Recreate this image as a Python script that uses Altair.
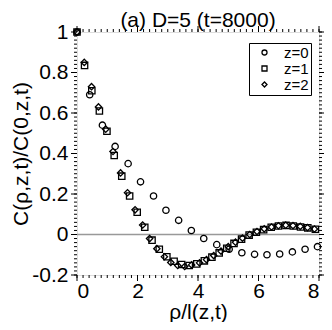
import altair as alt
import pandas as pd

# ---- data ----
labels = ["z=0", "z=1", "z=2"]

z0_x = [0, 0.42, 0.84, 1.26, 1.69, 2.10, 2.53, 2.94, 3.36, 3.78, 4.19, 4.62,
        5.03, 5.45, 5.87, 6.28, 6.70, 7.12, 7.54, 7.95]
z0_y = [1.0, 0.69, 0.54, 0.435, 0.35, 0.26, 0.19, 0.12, 0.07, 0.02, -0.02, -0.05,
        -0.073, -0.09, -0.098, -0.10, -0.096, -0.086, -0.073, -0.06]

z1_x = [0, 0.25, 0.49, 0.74, 0.99, 1.23, 1.48, 1.74, 1.99, 2.24, 2.48, 2.72,
        2.97, 3.21, 3.46, 3.71, 3.96, 4.21, 4.46, 4.70, 4.95, 5.19, 5.44, 5.69,
        5.93, 6.17, 6.42, 6.66, 6.91, 7.15, 7.39, 7.63, 7.88]
z1_y = [1.0, 0.835, 0.71, 0.61, 0.51, 0.39, 0.288, 0.19, 0.11, 0.036, -0.028, -0.073,
        -0.11, -0.132, -0.148, -0.153, -0.145, -0.13, -0.112, -0.091, -0.068, -0.044,
        -0.023, -0.003, 0.011, 0.024, 0.036, 0.042, 0.045, 0.042, 0.037, 0.033, 0.026]

z2_x = [0, 0.24, 0.48, 0.71, 0.95, 1.19, 1.44, 1.67, 1.92, 2.17, 2.40, 2.64,
        2.89, 3.10, 3.33, 3.56, 3.79, 4.05, 4.28, 4.52, 4.76, 5.00, 5.24, 5.47,
        5.71, 5.95, 6.19, 6.43, 6.66, 6.90, 7.14, 7.38, 7.62, 7.85]
z2_y = [1.0, 0.85, 0.73, 0.63, 0.52, 0.41, 0.304, 0.206, 0.122, 0.047, -0.02, -0.07,
        -0.11, -0.138, -0.153, -0.158, -0.15, -0.14, -0.124, -0.104, -0.082, -0.06,
        -0.038, -0.018, 0.0, 0.015, 0.028, 0.037, 0.043, 0.046, 0.044, 0.04, 0.034, 0.027]

x_major = [0, 2, 4, 6, 8]
x_minor = [round(i * 0.2, 2) for i in range(41)]
y_major = [-0.2, 0, 0.2, 0.4, 0.6, 0.8, 1.0]
y_minor = [round(-0.2 + i * 0.02, 2) for i in range(61)]
zero_line = [0]

title_text = "(a) D=5 (t=8000)"
x_title = "ρ/l(z,t)"
y_title = "C(ρ,z,t)/C(0,z,t)"

# ---- build tables ----
rows = []
for lab, xs_, ys_ in zip(labels, [z0_x, z1_x, z2_x], [z0_y, z1_y, z2_y]):
    rows += [{"r": a, "c": b, "z": lab} for a, b in zip(xs_, ys_)]
df = pd.DataFrame(rows)

W, H = 242, 243
FONT = "Liberation Sans"
FS = 21
xsc = alt.Scale(domain=[0, 8], nice=False, zero=False)
ysc = alt.Scale(domain=[-0.2, 1], nice=False, zero=False)

y_label_expr = ("datum.value < 0 ? '-' + format(-datum.value, '.1~f') : "
                "format(datum.value, '.1~f')")

x_axis = alt.Axis(
    values=x_major, ticks=False, domain=False, grid=False,
    labelFont=FONT, labelFontSize=FS, labelColor="black", labelPadding=5,
    title=x_title, titleFont=FONT, titleFontSize=FS, titleFontWeight="normal",
    titleColor="black", titleBaseline="alphabetic", titleY=43)
y_axis = alt.Axis(
    values=y_major, ticks=False, domain=False, grid=False,
    labelFont=FONT, labelFontSize=FS, labelColor="black", labelPadding=9,
    labelExpr=y_label_expr,
    title=y_title, titleFont=FONT, titleFontSize=FS, titleFontWeight="normal",
    titleColor="black", titleBaseline="alphabetic", titleX=-50, titleY=H / 2,
    titleAngle=270)

X = lambda: alt.X("r:Q", scale=xsc, axis=x_axis)
Y = lambda: alt.Y("c:Q", scale=ysc, axis=y_axis)

points = alt.Chart(df).mark_point(
    filled=False, color="black", strokeWidth=1.3, size=40, opacity=1
).encode(
    x=X(), y=Y(),
    shape=alt.Shape("z:N", scale=alt.Scale(domain=labels, range=["circle", "square", "diamond"]),
                    legend=alt.Legend(
                        title=None, orient="none", legendX=172, legendY=11,
                        strokeColor="black", fillColor="white", padding=2,
                        labelFont=FONT, labelFontSize=15, labelColor="black",
                        symbolSize=25, symbolStrokeWidth=1.3, symbolOffset=6,
                        labelOffset=12, rowPadding=-2)),
)

zero = alt.Chart(pd.DataFrame({"c": zero_line})).mark_rule(
    color="#999999", strokeWidth=1.6
).encode(y=Y())


def vticks(vals, length):
    d = pd.DataFrame({"c": vals})
    left = alt.Chart(d).mark_rule(color="black", strokeWidth=1).encode(
        y=Y(), x=alt.value(-length), x2=alt.value(0))
    right = alt.Chart(d).mark_rule(color="black", strokeWidth=1).encode(
        y=Y(), x=alt.value(W), x2=alt.value(W + min(length, 5)))
    return [left, right]


def hticks(vals, length):
    d = pd.DataFrame({"r": vals})
    top = alt.Chart(d).mark_rule(color="black", strokeWidth=1).encode(
        x=X(), y=alt.value(-length), y2=alt.value(0))
    bottom = alt.Chart(d).mark_rule(color="black", strokeWidth=1).encode(
        x=X(), y=alt.value(H), y2=alt.value(H + length))
    return [top, bottom]


layers = [zero] + vticks(y_minor, 3) + vticks(y_major, 6) + hticks(x_minor, 3) + hticks(x_major, 6) + [points]

chart = alt.layer(*layers).properties(
    width=W, height=H,
    title=alt.Title(title_text, font=FONT, fontSize=FS, fontWeight="normal", color="black",
                    anchor="middle", frame="group", baseline="alphabetic", offset=3, dy=30),
    autosize=alt.AutoSizeParams(type="none"),
    padding={"left": 69, "top": 24, "right": 5, "bottom": 47},
).configure_view(stroke="black", strokeWidth=1.5).configure(background="white")

chart.save("out.html", embed_options={"renderer": "svg", "actions": False})
